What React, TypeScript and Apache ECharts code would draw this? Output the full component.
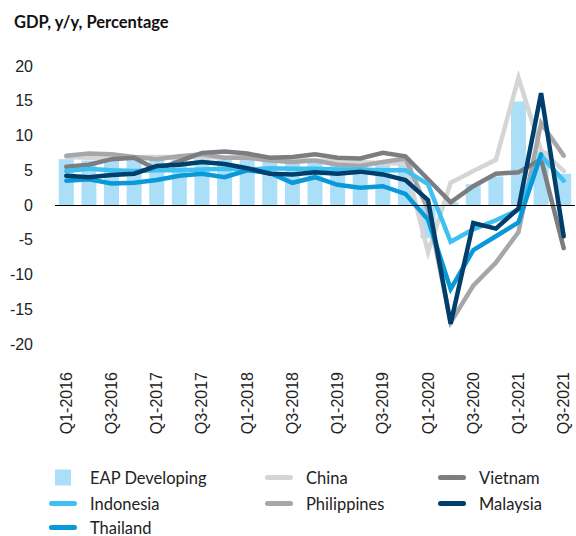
import React, { useEffect, useRef } from "react";
import * as echarts from "echarts";

const categories = [
  "Q1-2016", "Q2-2016", "Q3-2016", "Q4-2016",
  "Q1-2017", "Q2-2017", "Q3-2017", "Q4-2017",
  "Q1-2018", "Q2-2018", "Q3-2018", "Q4-2018",
  "Q1-2019", "Q2-2019", "Q3-2019", "Q4-2019",
  "Q1-2020", "Q2-2020", "Q3-2020", "Q4-2020",
  "Q1-2021", "Q2-2021", "Q3-2021",
];

const eapDeveloping = [6.6, 6.4, 6.5, 6.6, 6.6, 6.7, 6.6, 6.5, 6.5, 6.5, 6.3, 6.1, 6.0, 5.9, 5.8, 5.8, -4.8, 0.4, 3.0, 4.1, 14.9, 7.8, 4.5];
const china = [6.9, 6.8, 6.8, 6.9, 6.9, 6.9, 6.9, 6.8, 6.9, 6.8, 6.6, 6.4, 6.3, 6.2, 6.0, 6.0, -6.8, 3.2, 4.9, 6.5, 18.3, 7.9, 4.9];
const philippines = [7.1, 7.4, 7.3, 6.9, 6.6, 7.0, 7.3, 6.8, 6.8, 6.4, 6.2, 6.4, 5.8, 5.6, 6.2, 6.7, -0.7, -16.9, -11.6, -8.3, -3.9, 11.8, 7.1];
const vietnam = [5.5, 5.8, 6.6, 6.8, 5.1, 6.3, 7.5, 7.7, 7.4, 6.8, 6.9, 7.3, 6.8, 6.7, 7.5, 7.0, 3.7, 0.4, 2.7, 4.5, 4.7, 6.6, -6.2];
const indonesia = [4.9, 5.2, 5.0, 4.9, 5.0, 5.0, 5.1, 5.2, 5.1, 5.3, 5.2, 5.2, 5.1, 5.1, 5.0, 5.0, 3.0, -5.3, -3.5, -2.2, -0.7, 7.1, 3.5];
const thailand = [3.5, 3.7, 3.1, 3.2, 3.6, 4.2, 4.5, 4.0, 5.0, 4.6, 3.2, 4.0, 2.9, 2.5, 2.7, 1.6, -2.1, -12.1, -6.5, -4.5, -2.5, 7.3, null];
const malaysia = [4.2, 4.0, 4.3, 4.5, 5.6, 5.8, 6.2, 5.9, 5.3, 4.5, 4.4, 4.7, 4.5, 4.8, 4.4, 3.6, 0.7, -17.1, -2.6, -3.4, -0.5, 16.1, -4.5];

const yTicks = { min: -20, max: 20, interval: 5 };

const COLORS = {
  eap: "#abdff8",
  china: "#d5d5d6",
  philippines: "#a6a7a9",
  vietnam: "#7c7d80",
  indonesia: "#3ec1f1",
  thailand: "#0a99d8",
  malaysia: "#003f6b",
};

const LINE_ICON = "path://M2.5,0H25.5A2.5,2.5,0,0,1,25.5,5H2.5A2.5,2.5,0,0,1,2.5,0Z";
const LEGEND_FONT = "Lato, 'Noto Sans', sans-serif";
const AXIS_FONT = "Arial, 'Liberation Sans', sans-serif";

function lineLegend(name: string, left: number, top: number) {
  return {
    data: [name],
    left,
    top,
    padding: 0,
    icon: LINE_ICON,
    itemWidth: 28,
    itemHeight: 5,
    selectedMode: false,
    itemStyle: { borderWidth: 0 },
    textStyle: {
      fontFamily: LEGEND_FONT,
      fontSize: 16.5,
      color: "#222",
      lineHeight: 16,
      padding: [0, 0, 0, 8],
    },
  };
}

function lineSeries(name: string, data: (number | null)[], color: string) {
  return {
    name,
    type: "line",
    data,
    color,
    symbol: "none",
    showSymbol: false,
    connectNulls: false,
    itemStyle: { color, borderWidth: 0 },
    lineStyle: { color, width: 4.5, join: "miter", cap: "round" },
  };
}

export default function App() {
  const ref = useRef<HTMLDivElement>(null);

  useEffect(() => {
    if (!ref.current) return;
    const chart = echarts.init(ref.current, undefined, { renderer: "svg" });
    chart.setOption({
      animation: false,
      backgroundColor: "#ffffff",
      title: {
        text: "GDP, y/y, Percentage",
        left: 9,
        top: 8,
        textStyle: {
          fontFamily: LEGEND_FONT,
          fontWeight: "bold",
          fontSize: 16.5,
          color: "#111",
        },
      },
      legend: [
        {
          data: ["EAP Developing"],
          left: 55,
          top: 469,
          padding: 0,
          icon: "rect",
          itemWidth: 16,
          itemHeight: 16,
          selectedMode: false,
          itemStyle: { borderWidth: 0 },
          textStyle: {
            fontFamily: LEGEND_FONT,
            fontSize: 16.5,
            color: "#222",
            lineHeight: 16,
            padding: [0, 0, 0, 14],
          },
        },
        lineLegend("Indonesia", 49, 495),
        lineLegend("Thailand", 49, 519),
        lineLegend("China", 265, 469),
        lineLegend("Philippines", 265, 495),
        lineLegend("Vietnam", 438, 469),
        lineLegend("Malaysia", 438, 495),
      ],
      grid: { left: 55, right: 1, top: 66, bottom: 192 },
      xAxis: {
        type: "category",
        data: categories,
        boundaryGap: true,
        axisLine: { show: false, onZero: false },
        axisTick: { show: false },
        splitLine: { show: false },
        axisLabel: {
          interval: 1,
          rotate: 90,
          margin: 28,
          fontSize: 16,
          fontFamily: AXIS_FONT,
          color: "#222",
        },
      },
      yAxis: {
        type: "value",
        min: yTicks.min,
        max: yTicks.max,
        interval: yTicks.interval,
        axisLine: { show: false },
        axisTick: { show: false },
        splitLine: { show: false },
        axisLabel: {
          margin: 22,
          fontSize: 16,
          fontFamily: AXIS_FONT,
          color: "#222",
        },
      },
      series: [
        {
          name: "EAP Developing",
          type: "bar",
          data: eapDeveloping,
          color: COLORS.eap,
          itemStyle: { color: COLORS.eap },
          barWidth: 15,
          markLine: {
            silent: true,
            symbol: ["none", "none"],
            label: { show: false },
            lineStyle: { color: "#000", width: 1, type: "solid" },
            data: [{ yAxis: 0 }],
          },
        },
        lineSeries("China", china, COLORS.china),
        lineSeries("Philippines", philippines, COLORS.philippines),
        lineSeries("Vietnam", vietnam, COLORS.vietnam),
        lineSeries("Indonesia", indonesia, COLORS.indonesia),
        lineSeries("Thailand", thailand, COLORS.thailand),
        lineSeries("Malaysia", malaysia, COLORS.malaysia),
      ],
    });
    return () => chart.dispose();
  }, []);

  return (
    <div
      ref={ref}
      style={{ position: "fixed", left: 0, top: 0, width: 576, height: 536, background: "#fff" }}
    />
  );
}
